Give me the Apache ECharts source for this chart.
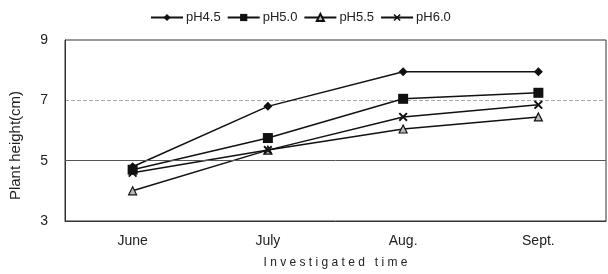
<!DOCTYPE html>
<html>
<head>
<meta charset="utf-8">
<script src="https://cdn.jsdelivr.net/npm/echarts@6/dist/echarts.min.js"></script>
<style>
  html, body { margin: 0; padding: 0; background: #fff; }
  #chart { width: 608px; height: 274px; }
</style>
</head>
<body>
<div id="chart"></div>
<script>
var months = ["June", "July", "Aug.", "Sept."];
var ph45 = [4.8, 6.8, 7.95, 7.95];
var ph50 = [4.7, 5.75, 7.05, 7.25];
var ph55 = [4.0, 5.35, 6.05, 6.45];
var ph60 = [4.6, 5.35, 6.45, 6.85];
var yTicks = [3, 5, 7, 9];

var crossPath = "path://M0,1.5 L1.5,0 L5,3.5 L8.5,0 L10,1.5 L6.5,5 L10,8.5 L8.5,10 L5,6.5 L1.5,10 L0,8.5 L3.5,5 Z";

var chart = echarts.init(document.getElementById("chart"));

function mkSeries(name, data, symbol, size, fill) {
  return {
    name: name,
    type: "line",
    data: data,
    symbol: symbol,
    symbolSize: size,
    showAllSymbol: true,
    lineStyle: { color: "#111", width: 1.5 },
    itemStyle: { color: fill, borderColor: "#111", borderWidth: fill === "#111" ? 0 : 1.2 },
    emphasis: { disabled: true }
  };
}

var series = [
  mkSeries("pH4.5", ph45, "diamond", 9, "#111"),
  mkSeries("pH5.0", ph50, "rect", 10, "#111"),
  mkSeries("pH5.5", ph55, "triangle", 8, "#bbb"),
  mkSeries("pH6.0", ph60, crossPath, 9, "#111")
];
// solid line at 5
series[0].markLine = {
  silent: true,
  symbol: "none",
  label: { show: false },
  lineStyle: { color: "#555", type: "solid", width: 1 },
  data: [{ yAxis: yTicks[1] }]
};

var none = "rgba(0,0,0,0)";

var option = {
  backgroundColor: "#fff",
  animation: false,
  textStyle: { fontFamily: "Liberation Sans, Arial, sans-serif", color: "#222" },
  legend: {
    top: 6,
    left: 145,
    itemWidth: 32,
    itemHeight: 9,
    itemGap: 6,
    textStyle: { fontSize: 13, color: "#222", padding: [0, 0, 0, -2] },
    data: ["pH4.5", "pH5.0", "pH5.5", "pH6.0"]
  },
  grid: {
    left: 64,
    right: 2,
    top: 40,
    bottom: 53,
    show: true,
    borderColor: "#333",
    borderWidth: 1
  },
  xAxis: {
    type: "category",
    data: months,
    boundaryGap: true,
    axisLine: { lineStyle: { color: "#333" } },
    axisTick: { show: false },
    axisLabel: { fontSize: 14, color: "#222", margin: 13 },
    name: "I n v e s t i g a t e d   t i m e",
    nameLocation: "middle",
    nameGap: 36,
    nameTextStyle: { fontSize: 12, color: "#222" }
  },
  yAxis: {
    type: "value",
    min: 3,
    max: 9,
    interval: 2,
    axisLine: { show: true, lineStyle: { color: "#333" } },
    axisTick: { show: false },
    axisLabel: { fontSize: 14, color: "#222", margin: 17,
      formatter: function (v) { return yTicks.indexOf(v) >= 0 ? v : ""; } },
    splitLine: {
      show: true,
      lineStyle: { color: [none, none, "#aaa", none], type: "dashed" }
    },
    name: "Plant height(cm)",
    nameLocation: "middle",
    nameGap: 42,
    nameTextStyle: { fontSize: 15, color: "#222", padding: [0, 0, 0, -30] }
  },
  series: series
};
chart.setOption(option);
</script>
</body>
</html>
